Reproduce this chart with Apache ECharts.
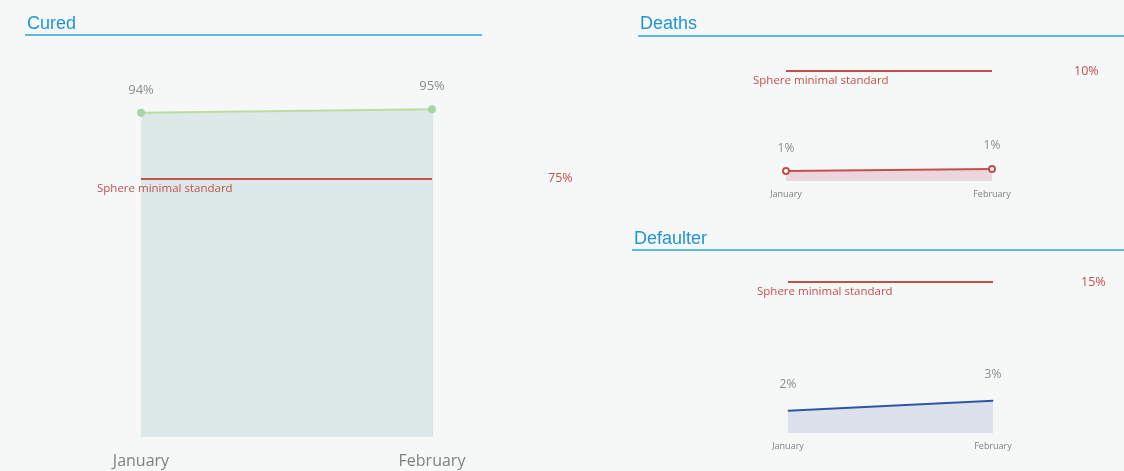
<!DOCTYPE html>
<html><head><meta charset="utf-8">
<script src="https://cdn.jsdelivr.net/npm/echarts@6/dist/echarts.min.js"></script>
<style>html,body{margin:0;padding:0;background:#f6f8f7;}#c{width:1124px;height:471px;}</style>
</head><body><div id="c"></div>
<script>
const months = ['January', 'February'];
const curedValues = [94, 95];
const curedStandard = 75;
const deathsValues = [0.9, 1.1];
const deathsStandard = 10;
const defaulterValues = [2.2, 3.2];
const defaulterStandard = 15;
const panelTitles = ['Cured', 'Deaths', 'Defaulter'];
const standardLabel = 'Sphere minimal standard';

const FONT = '"Open Sans", sans-serif';
const TFONT = '"Liberation Sans", Arial, sans-serif';
const RED = '#c4504e';
const pct = p => Math.round(p.value) + '%';

function stdLine(value, shiftX, rightGap) {
  return {
    symbol: 'none', silent: true, animation: false,
    data: [
      { yAxis: value, lineStyle: { color: RED, width: 2, type: 'solid' },
        label: { show: true, position: 'insideStartBottom', distance: [shiftX, 4], formatter: standardLabel,
                 color: RED, fontSize: 11.5, fontFamily: FONT } },
      { yAxis: value, lineStyle: { color: 'rgba(0,0,0,0)', width: 0 },
        label: { show: true, position: 'end', distance: [rightGap, 0], formatter: value + '%',
                 color: RED, fontSize: 12.5, fontFamily: FONT } }
    ]
  };
}

const titleStyle = { color: '#1e96d4', fontSize: 18, fontWeight: 'normal', fontFamily: TFONT };
const chart = echarts.init(document.getElementById('c'));
chart.setOption({
  backgroundColor: '#f6f8f7',
  animation: false,
  title: [
    { text: panelTitles[0], left: 22, top: 10, textStyle: titleStyle },
    { text: panelTitles[1], left: 635, top: 10, textStyle: titleStyle },
    { text: panelTitles[2], left: 629, top: 225, textStyle: titleStyle }
  ],
  graphic: [
    { type: 'line', shape: { x1: 25, y1: 35, x2: 482, y2: 35 }, style: { stroke: '#2ea6e2', lineWidth: 1.5 } },
    { type: 'line', shape: { x1: 638, y1: 36, x2: 1124, y2: 36 }, style: { stroke: '#2ea6e2', lineWidth: 1.5 } },
    { type: 'line', shape: { x1: 632, y1: 250, x2: 1124, y2: 250 }, style: { stroke: '#2ea6e2', lineWidth: 1.5 } }
  ],
  grid: [
    { left: 141, right: 692, top: 92, bottom: 34 },
    { left: 786, right: 132, top: 49, bottom: 290 },
    { left: 788, right: 131, top: 262, bottom: 38 }
  ],
  xAxis: [
    { gridIndex: 0, type: 'category', data: months, boundaryGap: false, axisLine: { show: false }, axisTick: { show: false },
      axisLabel: { color: '#7f7f7f', fontSize: 16, margin: 16, fontFamily: FONT } },
    { gridIndex: 1, type: 'category', data: months, boundaryGap: false, axisLine: { show: false }, axisTick: { show: false },
      axisLabel: { color: '#7f7f7f', fontSize: 9, margin: 9, fontFamily: FONT } },
    { gridIndex: 2, type: 'category', data: months, boundaryGap: false, axisLine: { show: false }, axisTick: { show: false },
      axisLabel: { color: '#7f7f7f', fontSize: 9, margin: 9, fontFamily: FONT } }
  ],
  yAxis: [
    { gridIndex: 0, type: 'value', min: 0, max: 100, show: false },
    { gridIndex: 1, type: 'value', min: 0, max: 12, show: false },
    { gridIndex: 2, type: 'value', min: 0, max: 17, show: false }
  ],
  series: [
    { type: 'line', xAxisIndex: 0, yAxisIndex: 0, data: curedValues, symbol: 'circle', symbolSize: 8,
      itemStyle: { color: '#a6d6a8' }, lineStyle: { color: '#bddc9f', width: 2 },
      areaStyle: { color: '#dde9e9', opacity: 1, shadowColor: 'rgba(214,228,228,1)', shadowOffsetX: 8, shadowBlur: 0 },
      label: { show: true, position: 'top', distance: 12, formatter: pct, color: '#8c8c8c', fontSize: 13, fontFamily: FONT },
      markLine: stdLine(curedStandard, -44, 116) },
    { type: 'line', xAxisIndex: 1, yAxisIndex: 1, data: deathsValues, symbol: 'emptyCircle', symbolSize: 6,
      itemStyle: { color: '#c4504e', borderWidth: 1.5 }, lineStyle: { color: '#c4504e', width: 2 },
      areaStyle: { color: '#ecd6dd', opacity: 1 },
      label: { show: true, position: 'top', distance: 13, formatter: pct, color: '#8c8c8c', fontSize: 12, fontFamily: FONT },
      markLine: stdLine(deathsStandard, -33, 82) },
    { type: 'line', xAxisIndex: 2, yAxisIndex: 2, data: defaulterValues, symbol: 'circle', symbolSize: 1,
      itemStyle: { color: '#2f56a6' }, lineStyle: { color: '#2f56a6', width: 2 },
      areaStyle: { color: '#dce1ec', opacity: 1 },
      label: { show: true, position: 'top', distance: 20, formatter: pct, color: '#8c8c8c', fontSize: 12, fontFamily: FONT },
      markLine: stdLine(defaulterStandard, -31, 88) }
  ]
});
</script>
</body></html>
